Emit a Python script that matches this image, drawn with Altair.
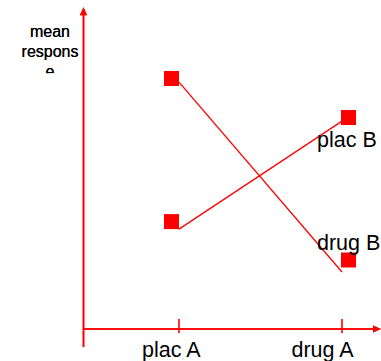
import altair as alt
import pandas as pd

# Interaction plot: two factors (A: placebo/drug, B: placebo/drug)
conditions = ["plac A", "drug A"]
cond_pos = [1, 2]
series = ["plac B", "drug B"]

# mean response along each B-level line
plac_b_line = [3.33, 6.93]
drug_b_line = [8.23, 1.9]

# square markers for the cell means
marker_pos = [0.954, 2.040]
plac_b_marker = [3.58, 7.05]
drug_b_marker = [8.35, 2.3]

RED = "#FF0000"
FONT = "Liberation Sans"

lines = pd.DataFrame({
    "series": [series[0]] * 2 + [series[1]] * 2,
    "cond": conditions * 2,
    "x": cond_pos * 2,
    "y": plac_b_line + drug_b_line,
})
markers = pd.DataFrame({
    "series": [series[0]] * 2 + [series[1]] * 2,
    "x": marker_pos * 2,
    "y": plac_b_marker + drug_b_marker,
})
ticks = pd.DataFrame({"cond": conditions, "x": cond_pos})

xs = alt.Scale(domain=[1, 2], range=[179, 342], nice=False, zero=False)
ys = alt.Scale(domain=[0, 10], range=[329, 29], nice=False, zero=False)
X = alt.X("x:Q", scale=xs, axis=None)
Y = alt.Y("y:Q", scale=ys, axis=None)

# hand-drawn axes with arrowheads
y_axis = alt.Chart(ticks).mark_rule(color=RED, strokeWidth=1.6).encode(
    x=alt.value(83.5), y=alt.value(14), y2=alt.value(347))
x_axis = alt.Chart(ticks).mark_rule(color=RED, strokeWidth=1.6).encode(
    x=alt.value(83.5), x2=alt.value(376), y=alt.value(329))
up_arrow = alt.Chart(ticks).mark_point(
    shape="M0,-1L0.9,1L-0.9,1Z", filled=True, fill=RED, stroke=None,
    opacity=1, size=64).encode(x=alt.value(83.5), y=alt.value(11.3))
right_arrow = alt.Chart(ticks).mark_point(
    shape="M1,0L-1,-0.9L-1,0.9Z", filled=True, fill=RED, stroke=None,
    opacity=1, size=64).encode(x=alt.value(377), y=alt.value(329))
tick_marks = alt.Chart(ticks).mark_rule(color=RED, strokeWidth=1.6).encode(
    x=X, y=alt.value(319), y2=alt.value(333))

tick_font = dict(font=FONT, fontSize=21.5, color="black", baseline="alphabetic")
tick_a = alt.Chart(ticks).transform_filter(alt.datum.cond == conditions[0]).mark_text(
    align="center", dx=-7.6, **tick_font).encode(x=X, y=alt.value(356.7), text="cond:N")
tick_b = alt.Chart(ticks).transform_filter(alt.datum.cond == conditions[1]).mark_text(
    align="center", dx=-19.5, **tick_font).encode(x=X, y=alt.value(356.7), text="cond:N")

y_title = alt.Chart(ticks).mark_text(
    text="mean\nrespons\ne", lineBreak="\n", lineHeight=20, font=FONT,
    fontSize=16, color="black", align="center", baseline="alphabetic").encode(
    x=alt.value(50), y=alt.value(36.7))
# the title box cuts off the last line
title_clip = alt.Chart(ticks).mark_rect(color="white", opacity=1).encode(
    x=alt.value(15), x2=alt.value(80), y=alt.value(73.5), y2=alt.value(95))

line_layer = alt.Chart(lines).mark_line(color=RED, strokeWidth=1.3).encode(
    x=X, y=Y, detail="series:N", order="x:Q")
square_layer = alt.Chart(markers).mark_square(
    color=RED, filled=True, opacity=1, size=225).encode(x=X, y=Y)

ends = lines[lines["x"] == cond_pos[1]]
lab_font = dict(font=FONT, fontSize=21.5, color="black", align="left", baseline="alphabetic")
lab_plac = alt.Chart(ends).transform_filter(alt.datum.series == series[0]).mark_text(
    dx=-25, dy=26.2, **lab_font).encode(x=X, y=Y, text="series:N")
lab_drug = alt.Chart(ends).transform_filter(alt.datum.series == series[1]).mark_text(
    dx=-25, dy=-22, **lab_font).encode(x=X, y=Y, text="series:N")

chart = alt.layer(
    y_axis, x_axis, up_arrow, right_arrow, tick_marks,
    line_layer, square_layer, lab_plac, lab_drug,
    tick_a, tick_b, y_title, title_clip,
).properties(
    width=381, height=361, padding=0, autosize=alt.AutoSizeParams(type="none"),
    background="white",
).configure_view(stroke=None)

chart.save("out.html", embed_options={"renderer": "svg", "actions": False})
